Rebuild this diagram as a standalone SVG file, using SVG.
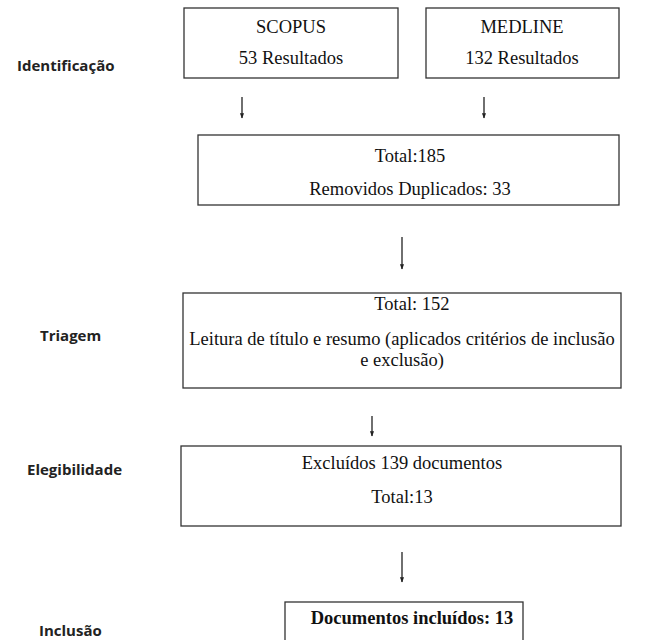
<svg xmlns="http://www.w3.org/2000/svg" width="646" height="640" viewBox="0 0 646 640">
<style>
.box{fill:#fff;stroke:#333;stroke-width:1.3}
.t{font-family:"Liberation Serif","Times New Roman",serif;font-size:18.5px;fill:#111;text-anchor:middle}
.b{font-weight:bold}
.lab{font-family:"Open Sans","Noto Sans",sans-serif;font-size:15px;font-weight:bold;fill:#222}
.c{stroke:#222;stroke-width:1.3;fill:none}
</style>
<defs>
<marker id="ah" viewBox="0 0 10 10" refX="9" refY="5" markerWidth="4" markerHeight="4" orient="auto"><path d="M0,1 L10,5 L0,9 z" fill="#222"/></marker>
</defs>
<rect width="646" height="640" fill="#fff"/>
<g id="labels">
<text class="lab" x="17" y="71">Identificação</text>
<text class="lab" x="40" y="341">Triagem</text>
<text class="lab" x="27" y="475">Elegibilidade</text>
<text class="lab" x="39" y="636">Inclusão</text>
</g>
<g id="scopus">
<rect class="box" x="184" y="8" width="214" height="70"/>
<text class="t" x="291" y="33">SCOPUS</text>
<text class="t" x="291" y="64">53 Resultados</text>
</g>
<g id="medline">
<rect class="box" x="426" y="8" width="193" height="70"/>
<text class="t" x="522" y="33">MEDLINE</text>
<text class="t" x="522" y="64">132 Resultados</text>
</g>
<g id="total185">
<rect class="box" x="198" y="135" width="421" height="70"/>
<text class="t" x="410" y="162">Total:185</text>
<text class="t" x="410" y="195">Removidos Duplicados: 33</text>
</g>
<g id="triagem">
<rect class="box" x="183" y="293" width="438" height="95"/>
<text class="t" x="412" y="310">Total: 152</text>
<text class="t" x="402" y="345">Leitura de título e resumo (aplicados critérios de inclusão</text>
<text class="t" x="402" y="366">e exclusão)</text>
</g>
<g id="elegibilidade">
<rect class="box" x="181" y="446" width="440" height="80"/>
<text class="t" x="402" y="469">Excluídos 139 documentos</text>
<text class="t" x="402" y="503">Total:13</text>
</g>
<g id="inclusao">
<rect class="box" x="285" y="602" width="238" height="45"/>
<text class="t b" x="412" y="624">Documentos incluídos: 13</text>
</g>
<g id="connectors">
<line class="c" x1="242" y1="97" x2="242" y2="118" marker-end="url(#ah)"/>
<line class="c" x1="484" y1="97" x2="484" y2="118" marker-end="url(#ah)"/>
<line class="c" x1="402" y1="237" x2="402" y2="269" marker-end="url(#ah)"/>
<line class="c" x1="372" y1="416" x2="372" y2="436" marker-end="url(#ah)"/>
<line class="c" x1="402" y1="552" x2="402" y2="582" marker-end="url(#ah)"/>
</g>
</svg>
